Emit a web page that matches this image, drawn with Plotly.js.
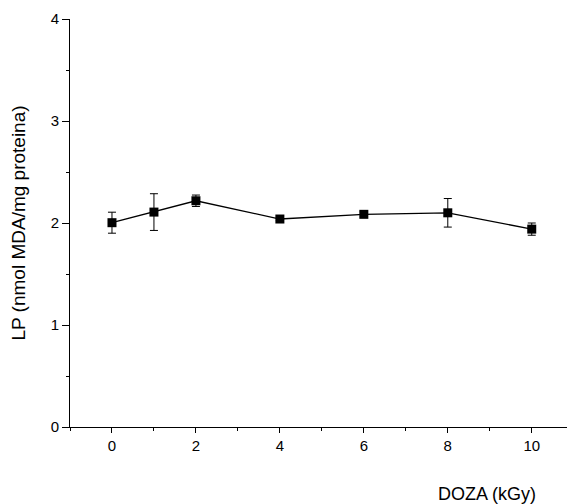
<!DOCTYPE html>
<html>
<head>
<meta charset="utf-8">
<script src="https://cdn.plot.ly/plotly-3.0.1.min.js"></script>
<style>html,body{margin:0;padding:0;background:#fff;}#chart{width:568px;height:504px;}</style>
</head>
<body>
<div id="chart"></div>
<script>
const doses = [0, 1, 2, 4, 6, 8, 10];
const lpValues = [2.003, 2.107, 2.218, 2.039, 2.085, 2.10, 1.94];
const lpErrors = [0.103, 0.18, 0.056, 0.015, 0.025, 0.14, 0.06];
const xTickVals = [0, 2, 4, 6, 8, 10];
const yTickVals = [0, 1, 2, 3, 4];

const font = "Liberation Sans, Arial, sans-serif";

const trace = {
  x: doses,
  y: lpValues,
  type: "scatter",
  mode: "lines+markers",
  line: {color: "#000", width: 1.3},
  marker: {symbol: "square", size: 9, color: "#000"},
  error_y: {type: "data", array: lpErrors, visible: true, color: "#000", thickness: 1, width: 4},
  showlegend: false
};

const layout = {
  width: 568,
  height: 504,
  margin: {l: 70, r: 1, t: 19, b: 77},
  paper_bgcolor: "#fff",
  plot_bgcolor: "#fff",
  font: {family: font, color: "#000", size: 15},
  xaxis: {
    range: [-1, 10.84],
    tickvals: xTickVals,
    ticks: "outside",
    ticklen: 5,
    tickcolor: "#000",
    showline: true,
    linecolor: "#000",
    linewidth: 1,
    showgrid: false,
    zeroline: false,
    tickfont: {size: 15},
    minor: {dtick: 1, tick0: 1, ticks: "outside", ticklen: 3, tickcolor: "#000", showgrid: false}
  },
  yaxis: {
    range: [0, 4],
    tickvals: yTickVals,
    ticks: "outside",
    ticklen: 7,
    tickcolor: "#000",
    showline: true,
    linecolor: "#000",
    linewidth: 1,
    showgrid: false,
    zeroline: false,
    tickfont: {size: 15},
    minor: {dtick: 0.5, tick0: 0, ticks: "outside", ticklen: 3, tickcolor: "#000", showgrid: false},
    title: {text: "LP (nmol MDA/mg proteina)", font: {size: 19}, standoff: 20}
  },
  annotations: [{
    text: "DOZA (kGy)",
    xref: "paper", yref: "paper",
    x: 1, y: 0,
    xanchor: "right", yanchor: "top",
    xshift: -29, yshift: -55,
    showarrow: false,
    font: {size: 18, family: font}
  }]
};

Plotly.newPlot("chart", [trace], layout, {displayModeBar: false, staticPlot: true});
</script>
</body>
</html>
